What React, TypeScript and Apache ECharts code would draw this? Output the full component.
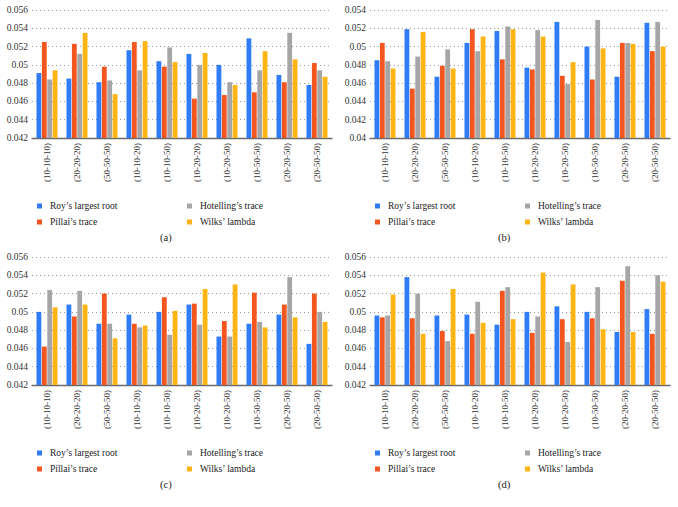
import React, { useEffect, useRef } from "react";
import * as echarts from "echarts";

const categories = [
  "(10-10-10)", "(20-20-20)", "(50-50-50)", "(10-10-20)", "(10-10-50)",
  "(10-20-20)", "(10-20-50)", "(10-50-50)", "(20-20-50)", "(20-50-50)",
];

const seriesNames = ["Roy’s largest root", "Pillai’s trace", "Hotelling’s trace", "Wilks’ lambda"];
const seriesColors = ["#2f7cf6", "#f4561f", "#a6a6a6", "#fdb515"];

// Panel (a)
const royA = [0.0491, 0.0485, 0.0481, 0.0516, 0.0504, 0.0512, 0.0500, 0.0529, 0.0489, 0.0478];
const pillaiA = [0.0525, 0.0523, 0.0498, 0.0525, 0.0498, 0.0463, 0.0467, 0.0470, 0.0481, 0.0502];
const hotellingA = [0.0484, 0.0512, 0.0483, 0.0494, 0.0519, 0.0500, 0.0481, 0.0494, 0.0535, 0.0494];
const wilksA = [0.0494, 0.0535, 0.0468, 0.0526, 0.0503, 0.0513, 0.0478, 0.0515, 0.0506, 0.0487];

// Panel (b)
const royB = [0.0485, 0.0519, 0.0467, 0.0504, 0.0517, 0.0477, 0.0527, 0.0500, 0.0467, 0.0526];
const pillaiB = [0.0504, 0.0454, 0.0479, 0.0519, 0.0486, 0.0475, 0.0468, 0.0464, 0.0504, 0.0495];
const hotellingB = [0.0484, 0.0489, 0.0497, 0.0495, 0.0522, 0.0518, 0.0459, 0.0529, 0.0504, 0.0527];
const wilksB = [0.0476, 0.0516, 0.0476, 0.0511, 0.0519, 0.0511, 0.0483, 0.0498, 0.0503, 0.0500];

// Panel (c)
const royC = [0.0500, 0.0508, 0.0487, 0.0497, 0.0500, 0.0508, 0.0473, 0.0487, 0.0497, 0.0465];
const pillaiC = [0.0462, 0.0495, 0.0520, 0.0487, 0.0516, 0.0509, 0.0490, 0.0521, 0.0508, 0.0520];
const hotellingC = [0.0524, 0.0523, 0.0487, 0.0483, 0.0475, 0.0486, 0.0473, 0.0489, 0.0538, 0.0500];
const wilksC = [0.0505, 0.0508, 0.0471, 0.0485, 0.0501, 0.0525, 0.0530, 0.0483, 0.0494, 0.0489];

// Panel (d)
const royD = [0.0496, 0.0538, 0.0496, 0.0497, 0.0486, 0.0500, 0.0506, 0.0500, 0.0478, 0.0503];
const pillaiD = [0.0494, 0.0493, 0.0479, 0.0476, 0.0523, 0.0477, 0.0492, 0.0493, 0.0534, 0.0476];
const hotellingD = [0.0496, 0.0520, 0.0468, 0.0511, 0.0527, 0.0495, 0.0467, 0.0527, 0.0550, 0.0540];
const wilksD = [0.0519, 0.0476, 0.0525, 0.0488, 0.0492, 0.0543, 0.0530, 0.0481, 0.0478, 0.0533];

const panelLabels = ["(a)", "(b)", "(c)", "(d)"];
const panelMins = [0.042, 0.04, 0.042, 0.042];
const panelMaxs = [0.056, 0.054, 0.056, 0.056];
const yInterval = 0.002;

const panelData = [
  [royA, pillaiA, hotellingA, wilksA],
  [royB, pillaiB, hotellingB, wilksB],
  [royC, pillaiC, hotellingC, wilksC],
  [royD, pillaiD, hotellingD, wilksD],
];

const FONT = "Liberation Serif";

export default function App() {
  const ref = useRef<HTMLDivElement>(null);

  useEffect(() => {
    if (!ref.current) return;
    const chart = echarts.init(ref.current, undefined, { renderer: "svg" });

    const offsets = [
      { x: 0, y: 0 },
      { x: 338, y: 0 },
      { x: 0, y: 247 },
      { x: 338, y: 247 },
    ];

    const grids = offsets.map((o) => ({
      left: o.x + 32,
      top: o.y + 10,
      width: 300,
      height: 128,
      containLabel: false,
    }));

    const xAxes = offsets.map((_, i) => ({
      type: "category",
      gridIndex: i,
      data: categories,
      axisLine: { show: true, lineStyle: { color: "#6b6b6b", width: 1.3 } },
      axisTick: { show: false },
      axisLabel: {
        rotate: 90,
        interval: 0,
        margin: 5,
        fontFamily: FONT,
        fontSize: 9,
        color: "#333",
      },
    }));

    const yAxes = offsets.map((_, i) => ({
      type: "value",
      gridIndex: i,
      min: panelMins[i],
      max: panelMaxs[i],
      interval: yInterval,
      axisLine: { show: false },
      axisTick: { show: false },
      splitLine: { show: true, lineStyle: { color: "#9a9a9a", type: [1, 3], width: 1 } },
      axisLabel: {
        margin: 4,
        fontFamily: FONT,
        fontSize: 9.5,
        color: "#333",
        formatter: (v: number) => String(+v.toFixed(3)),
      },
    }));

    const series: any[] = [];
    panelData.forEach((arrs, p) => {
      arrs.forEach((arr, s) => {
        series.push({
          type: "bar",
          name: seriesNames[s],
          xAxisIndex: p,
          yAxisIndex: p,
          data: arr,
          itemStyle: { color: seriesColors[s] },
          barGap: "12%",
          barCategoryGap: "30%",
        });
      });
    });

    const legends: any[] = [];
    offsets.forEach((o) => {
      const cols = [
        { x: o.x + 32, names: [seriesNames[0], seriesNames[1]] },
        { x: o.x + 182, names: [seriesNames[2], seriesNames[3]] },
      ];
      cols.forEach((c) => {
        legends.push({
          orient: "vertical",
          left: c.x,
          top: o.y + 195,
          itemWidth: 5,
          itemHeight: 5,
          itemGap: 4,
          icon: "rect",
          selectedMode: false,
          data: c.names,
          textStyle: {
            fontFamily: FONT,
            fontSize: 9.5,
            color: "#222",
            lineHeight: 12,
            padding: [0, 0, 0, 3],
          },
        });
      });
    });

    const graphics = offsets.map((o, i) => ({
      type: "text",
      left: o.x + 160,
      top: o.y + 232,
      style: {
        text: panelLabels[i],
        fontFamily: FONT,
        fontSize: 10.5,
        fill: "#222",
      },
    }));

    chart.setOption({
      animation: false,
      backgroundColor: "#ffffff",
      grid: grids,
      xAxis: xAxes,
      yAxis: yAxes,
      legend: legends,
      series,
      graphic: graphics,
    });

    return () => chart.dispose();
  }, []);

  return (
    <div
      ref={ref}
      style={{ position: "fixed", left: 0, top: 0, width: 678, height: 507, background: "#fff" }}
    />
  );
}
